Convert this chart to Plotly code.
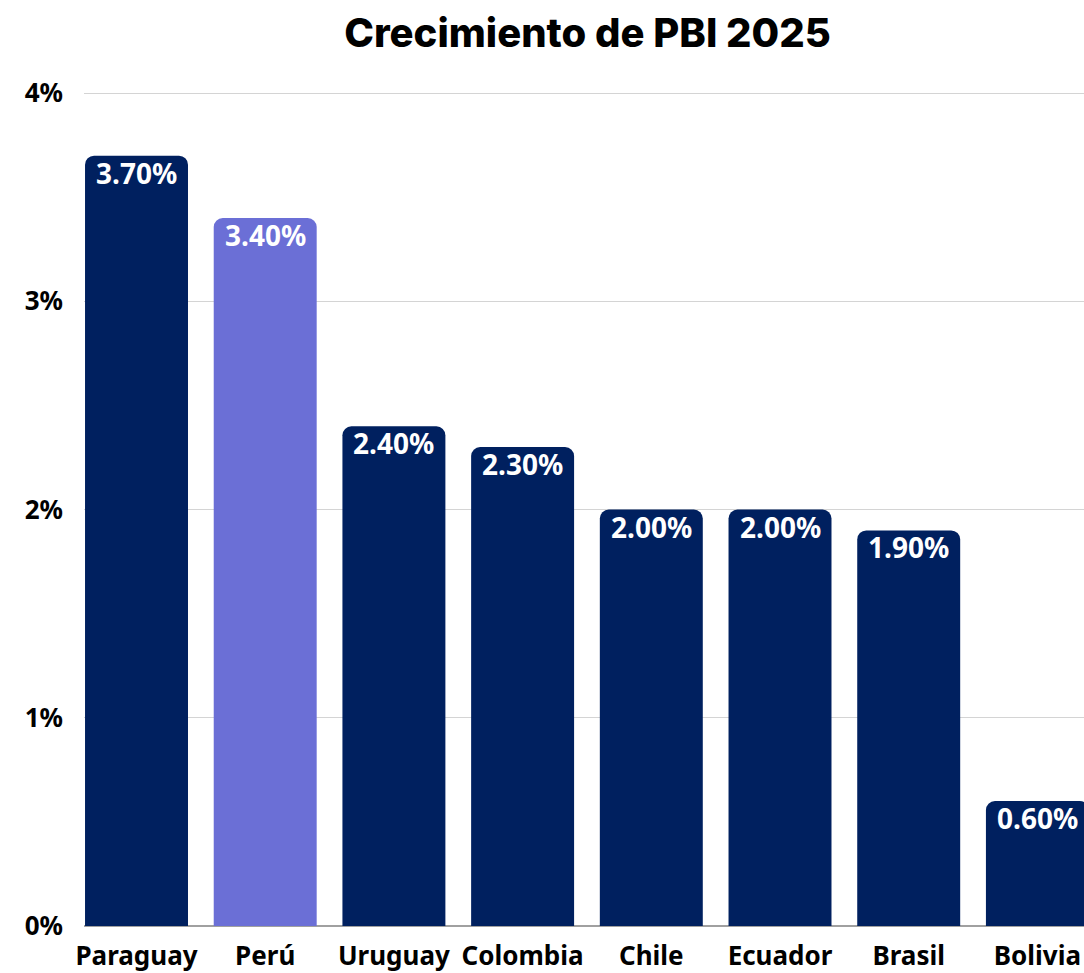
import plotly.graph_objects as go

countries = ["Paraguay", "Perú", "Uruguay", "Colombia", "Chile", "Ecuador", "Brasil", "Bolivia"]
growth = [3.70, 3.40, 2.40, 2.30, 2.00, 2.00, 1.90, 0.60]
labels = ["3.70%", "3.40%", "2.40%", "2.30%", "2.00%", "2.00%", "1.90%", "0.60%"]
tick_vals = [0, 1, 2, 3, 4]
tick_text = ["0%", "1%", "2%", "3%", "4%"]

navy = "#00205f"
highlight = "#6b6fd6"
colors = [highlight if c == "Perú" else navy for c in countries]
xs = list(range(len(countries)))

fig = go.Figure(go.Bar(
    x=xs,
    y=growth,
    marker=dict(color=colors, cornerradius=9, line=dict(width=0)),
    width=0.8,
    hoverinfo="skip",
))

for xi, yi, lab in zip(xs, growth, labels):
    fig.add_annotation(
        x=xi, y=yi, text=f"<b>{lab}</b>", showarrow=False,
        xanchor="center", yanchor="top", yshift=4,
        font=dict(family="Noto Sans", size=28, color="white"),
    )

fig.update_layout(
    width=1084, height=973,
    margin=dict(l=84, r=0, t=89, b=45),
    paper_bgcolor="white", plot_bgcolor="white",
    title=dict(text="Crecimiento de PBI 2025", x=0.542, xanchor="center",
               y=0.966, yanchor="middle",
               font=dict(family="Inter", size=40, color="black", weight=800)),
    showlegend=False,
)
fig.update_xaxes(
    range=[-0.408, 7.362],
    tickvals=xs,
    ticktext=[f"<b>{c}</b>" for c in countries],
    tickfont=dict(family="Noto Sans", size=26, color="black"),
    showgrid=False, zeroline=False, showline=False, ticks="",
    ticklabelstandoff=12,
)
fig.update_yaxes(
    range=[0, 4.02],
    tickvals=tick_vals,
    ticktext=[f"<b>{t}</b>" for t in tick_text],
    tickfont=dict(family="Noto Sans", size=26, color="black"),
    showgrid=True, gridcolor="#d4d4d4", gridwidth=1,
    zeroline=True, zerolinecolor="#a0a0a0", zerolinewidth=2,
    ticks="", ticklabelstandoff=20,
)

fig.write_html("out.html", config={"displayModeBar": False},
               post_script="document.body.style.margin='0';")
